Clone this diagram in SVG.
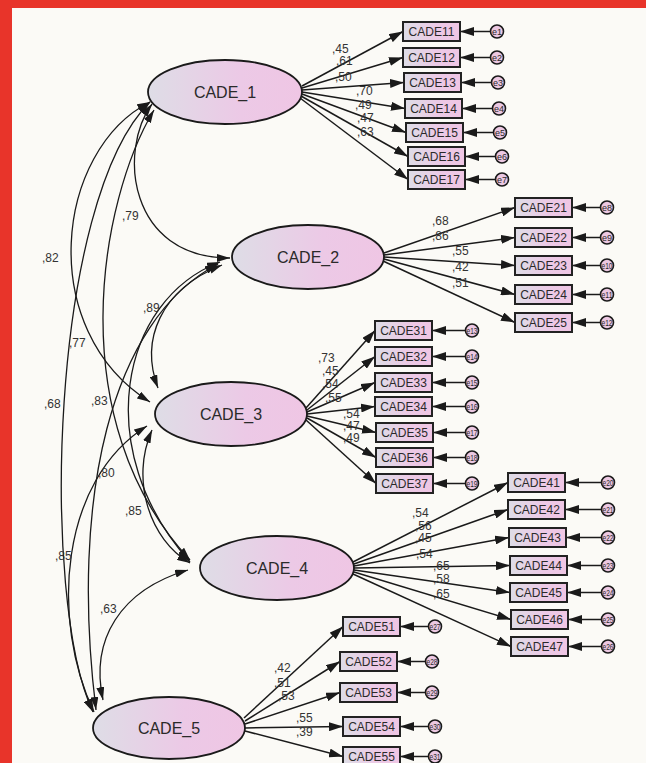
<svg xmlns="http://www.w3.org/2000/svg" width="646" height="763" viewBox="0 0 646 763">
<defs>
<linearGradient id="gf" x1="0" y1="0" x2="1" y2="0">
<stop offset="0" stop-color="#dedde6"/>
<stop offset="0.6" stop-color="#ecc9e6"/>
<stop offset="1" stop-color="#efc6e4"/>
</linearGradient>
<marker id="ah" viewBox="0 0 14 9" refX="14" refY="4.5" markerWidth="14" markerHeight="9" orient="auto-start-reverse" markerUnits="userSpaceOnUse"><path d="M0,0 L14,4.5 L0,9 z" fill="#1a1a1a"/></marker>
<marker id="ac" viewBox="0 0 13 8" refX="13" refY="4" markerWidth="13" markerHeight="8" orient="auto-start-reverse" markerUnits="userSpaceOnUse"><path d="M0,0 L13,4 L0,8 z" fill="#1a1a1a"/></marker>
</defs>
<style>
.lat{fill:url(#gf);stroke:#1a1a1a;stroke-width:1.8}
.obs{fill:url(#gf);stroke:#222;stroke-width:2}
.err{fill:#ecc8e2;stroke:#1a1a1a;stroke-width:1.6}
.ln{fill:none;stroke:#1a1a1a;stroke-width:1.5;marker-end:url(#ah)}
.cv{fill:none;stroke:#1a1a1a;stroke-width:1.3;marker-start:url(#ac);marker-end:url(#ac)}
.lt{font-family:"Liberation Sans",Arial,sans-serif;font-size:16px;fill:#2a2a2a;text-anchor:middle}
.bt{font-family:"Liberation Sans",Arial,sans-serif;font-size:12px;fill:#2a2a2a;text-anchor:middle}
.et{font-family:"Liberation Sans",Arial,sans-serif;font-size:9px;fill:#2a2a2a;text-anchor:middle}
.wt{font-family:"Liberation Sans",Arial,sans-serif;font-size:12px;fill:#333}
</style>
<rect x="0" y="0" width="646" height="763" fill="#fbfaf6"/>
<rect x="0" y="0" width="646" height="8" fill="#e8342a"/>
<rect x="0" y="0" width="12" height="763" fill="#e8342a"/>

<g id="connectors">
<path class="cv" d="M152,104 C118,150 128,258 230,258"/>
<path class="cv" d="M150,102 C55,150 35,330 150,402"/>
<path class="cv" d="M154,110 C100,200 60,420 190,560"/>
<path class="cv" d="M150,102 C50,200 40,600 93,712"/>
<path class="cv" d="M222,265 C160,290 140,340 158,388"/>
<path class="cv" d="M220,262 C120,300 90,450 190,562"/>
<path class="cv" d="M218,264 C110,320 70,500 96,710"/>
<path class="cv" d="M152,430 C130,480 150,540 190,563"/>
<path class="cv" d="M147,426 C60,480 50,620 94,712"/>
<path class="cv" d="M188,570 C120,590 90,640 103,700"/>
<path class="ln" d="M302,86 L403,31.5"/>
<path class="ln" d="M302,88 L403,57.5"/>
<path class="ln" d="M302,90 L404,82.5"/>
<path class="ln" d="M302,92 L405,108.5"/>
<path class="ln" d="M302,94 L406,132.5"/>
<path class="ln" d="M301,96 L408,156.5"/>
<path class="ln" d="M300,98 L408,179.5"/>
<path class="ln" d="M384,253 L515,207.5"/>
<path class="ln" d="M384,255 L515,237.5"/>
<path class="ln" d="M384,257 L515,265.5"/>
<path class="ln" d="M384,259 L515,294.5"/>
<path class="ln" d="M383,261 L515,322.5"/>
<path class="ln" d="M306,408 L375,330.5"/>
<path class="ln" d="M307,410 L375,356.5"/>
<path class="ln" d="M307,412 L375,382.5"/>
<path class="ln" d="M307,414 L375,406.5"/>
<path class="ln" d="M307,416 L376,432.5"/>
<path class="ln" d="M307,418 L376,457.5"/>
<path class="ln" d="M306,420 L376,483.5"/>
<path class="ln" d="M353,562 L508,482.5"/>
<path class="ln" d="M354,564 L508,509.5"/>
<path class="ln" d="M354,566 L509,537.5"/>
<path class="ln" d="M354,568 L510,565.5"/>
<path class="ln" d="M354,570 L510,592.5"/>
<path class="ln" d="M354,572 L511,619.5"/>
<path class="ln" d="M353,574 L511,646.5"/>
<path class="ln" d="M244,718 L343,626.5"/>
<path class="ln" d="M245,721 L340,661.5"/>
<path class="ln" d="M245,724 L340,692.5"/>
<path class="ln" d="M245,728 L343,726.5"/>
<path class="ln" d="M245,731 L343,756.5"/>
<path class="ln" d="M491,31.5 L460,31.5"/>
<path class="ln" d="M491,57.5 L460,57.5"/>
<path class="ln" d="M492,82.5 L461,82.5"/>
<path class="ln" d="M493,108.5 L462,108.5"/>
<path class="ln" d="M494,132.5 L463,132.5"/>
<path class="ln" d="M496,156.5 L465,156.5"/>
<path class="ln" d="M496,179.5 L465,179.5"/>
<path class="ln" d="M601,207.5 L572,207.5"/>
<path class="ln" d="M601,237.5 L572,237.5"/>
<path class="ln" d="M601,265.5 L572,265.5"/>
<path class="ln" d="M601,294.5 L572,294.5"/>
<path class="ln" d="M601,322.5 L572,322.5"/>
<path class="ln" d="M466,330.5 L432,330.5"/>
<path class="ln" d="M466,356.5 L432,356.5"/>
<path class="ln" d="M466,382.5 L432,382.5"/>
<path class="ln" d="M466,406.5 L432,406.5"/>
<path class="ln" d="M466,432.5 L433,432.5"/>
<path class="ln" d="M466,457.5 L433,457.5"/>
<path class="ln" d="M466,483.5 L433,483.5"/>
<path class="ln" d="M602,482.5 L565,482.5"/>
<path class="ln" d="M602,509.5 L565,509.5"/>
<path class="ln" d="M602,537.5 L566,537.5"/>
<path class="ln" d="M602,565.5 L567,565.5"/>
<path class="ln" d="M602,592.5 L567,592.5"/>
<path class="ln" d="M602,619.5 L568,619.5"/>
<path class="ln" d="M602,646.5 L568,646.5"/>
<path class="ln" d="M429,626.5 L400,626.5"/>
<path class="ln" d="M426,661.5 L397,661.5"/>
<path class="ln" d="M426,692.5 L397,692.5"/>
<path class="ln" d="M429,726.5 L400,726.5"/>
<path class="ln" d="M429,756.5 L400,756.5"/>
</g>

<g id="cov-labels">
<text class="wt" x="122" y="220">,79</text>
<text class="wt" x="42" y="262">,82</text>
<text class="wt" x="69" y="347">,77</text>
<text class="wt" x="44" y="408">,68</text>
<text class="wt" x="143" y="312">,89</text>
<text class="wt" x="91" y="405">,83</text>
<text class="wt" x="98" y="477">,80</text>
<text class="wt" x="125" y="515">,85</text>
<text class="wt" x="55" y="560">,85</text>
<text class="wt" x="100" y="613">,63</text>
</g>

<g id="load-labels">
<text class="wt" x="332" y="53">,45</text>
<text class="wt" x="336" y="65">,61</text>
<text class="wt" x="335" y="81">,50</text>
<text class="wt" x="356" y="95">,70</text>
<text class="wt" x="355" y="109">,49</text>
<text class="wt" x="357" y="122">,47</text>
<text class="wt" x="357" y="136">,63</text>
<text class="wt" x="432" y="225">,68</text>
<text class="wt" x="432" y="240">,86</text>
<text class="wt" x="452" y="255">,55</text>
<text class="wt" x="452" y="271">,42</text>
<text class="wt" x="452" y="287">,51</text>
<text class="wt" x="318" y="362">,73</text>
<text class="wt" x="322" y="375">,45</text>
<text class="wt" x="322" y="388">,54</text>
<text class="wt" x="325" y="402">,55</text>
<text class="wt" x="343" y="418">,54</text>
<text class="wt" x="343" y="430">,47</text>
<text class="wt" x="343" y="442">,49</text>
<text class="wt" x="412" y="517">,54</text>
<text class="wt" x="415" y="530">,56</text>
<text class="wt" x="415" y="542">,45</text>
<text class="wt" x="416" y="558">,54</text>
<text class="wt" x="433" y="570">,65</text>
<text class="wt" x="433" y="583">,58</text>
<text class="wt" x="433" y="598">,65</text>
<text class="wt" x="274" y="672">,42</text>
<text class="wt" x="274" y="687">,51</text>
<text class="wt" x="278" y="700">,53</text>
<text class="wt" x="296" y="722">,55</text>
<text class="wt" x="296" y="736">,39</text>
</g>

<g id="CADE_1"><ellipse class="lat" cx="225" cy="92" rx="77" ry="32"/><text class="lt" x="225" y="98">CADE_1</text></g>
<g id="CADE_2"><ellipse class="lat" cx="308" cy="257" rx="76" ry="32"/><text class="lt" x="308" y="263">CADE_2</text></g>
<g id="CADE_3"><ellipse class="lat" cx="231" cy="414" rx="76" ry="32"/><text class="lt" x="231" y="420">CADE_3</text></g>
<g id="CADE_4"><ellipse class="lat" cx="277" cy="568" rx="77" ry="32"/><text class="lt" x="277" y="574">CADE_4</text></g>
<g id="CADE_5"><ellipse class="lat" cx="169" cy="728" rx="76" ry="31"/><text class="lt" x="169" y="734">CADE_5</text></g>

<g id="CADE11"><rect class="obs" x="403" y="22" width="57" height="19"/><text class="bt" x="431.5" y="36">CADE11</text></g>
<g id="CADE12"><rect class="obs" x="403" y="48" width="57" height="19"/><text class="bt" x="431.5" y="62">CADE12</text></g>
<g id="CADE13"><rect class="obs" x="404" y="73" width="57" height="19"/><text class="bt" x="432.5" y="87">CADE13</text></g>
<g id="CADE14"><rect class="obs" x="405" y="99" width="57" height="19"/><text class="bt" x="433.5" y="113">CADE14</text></g>
<g id="CADE15"><rect class="obs" x="406" y="123" width="57" height="19"/><text class="bt" x="434.5" y="137">CADE15</text></g>
<g id="CADE16"><rect class="obs" x="408" y="147" width="57" height="19"/><text class="bt" x="436.5" y="161">CADE16</text></g>
<g id="CADE17"><rect class="obs" x="408" y="170" width="57" height="19"/><text class="bt" x="436.5" y="184">CADE17</text></g>

<g id="CADE21"><rect class="obs" x="515" y="198" width="57" height="19"/><text class="bt" x="543.5" y="212">CADE21</text></g>
<g id="CADE22"><rect class="obs" x="515" y="228" width="57" height="19"/><text class="bt" x="543.5" y="242">CADE22</text></g>
<g id="CADE23"><rect class="obs" x="515" y="256" width="57" height="19"/><text class="bt" x="543.5" y="270">CADE23</text></g>
<g id="CADE24"><rect class="obs" x="515" y="285" width="57" height="19"/><text class="bt" x="543.5" y="299">CADE24</text></g>
<g id="CADE25"><rect class="obs" x="515" y="313" width="57" height="19"/><text class="bt" x="543.5" y="327">CADE25</text></g>

<g id="CADE31"><rect class="obs" x="375" y="321" width="57" height="19"/><text class="bt" x="403.5" y="335">CADE31</text></g>
<g id="CADE32"><rect class="obs" x="375" y="347" width="57" height="19"/><text class="bt" x="403.5" y="361">CADE32</text></g>
<g id="CADE33"><rect class="obs" x="375" y="373" width="57" height="19"/><text class="bt" x="403.5" y="387">CADE33</text></g>
<g id="CADE34"><rect class="obs" x="375" y="397" width="57" height="19"/><text class="bt" x="403.5" y="411">CADE34</text></g>
<g id="CADE35"><rect class="obs" x="376" y="423" width="57" height="19"/><text class="bt" x="404.5" y="437">CADE35</text></g>
<g id="CADE36"><rect class="obs" x="376" y="448" width="57" height="19"/><text class="bt" x="404.5" y="462">CADE36</text></g>
<g id="CADE37"><rect class="obs" x="376" y="474" width="57" height="19"/><text class="bt" x="404.5" y="488">CADE37</text></g>

<g id="CADE41"><rect class="obs" x="508" y="473" width="57" height="19"/><text class="bt" x="536.5" y="487">CADE41</text></g>
<g id="CADE42"><rect class="obs" x="508" y="500" width="57" height="19"/><text class="bt" x="536.5" y="514">CADE42</text></g>
<g id="CADE43"><rect class="obs" x="509" y="528" width="57" height="19"/><text class="bt" x="537.5" y="542">CADE43</text></g>
<g id="CADE44"><rect class="obs" x="510" y="556" width="57" height="19"/><text class="bt" x="538.5" y="570">CADE44</text></g>
<g id="CADE45"><rect class="obs" x="510" y="583" width="57" height="19"/><text class="bt" x="538.5" y="597">CADE45</text></g>
<g id="CADE46"><rect class="obs" x="511" y="610" width="57" height="19"/><text class="bt" x="539.5" y="624">CADE46</text></g>
<g id="CADE47"><rect class="obs" x="511" y="637" width="57" height="19"/><text class="bt" x="539.5" y="651">CADE47</text></g>

<g id="CADE51"><rect class="obs" x="343" y="617" width="57" height="19"/><text class="bt" x="371.5" y="631">CADE51</text></g>
<g id="CADE52"><rect class="obs" x="340" y="652" width="57" height="19"/><text class="bt" x="368.5" y="666">CADE52</text></g>
<g id="CADE53"><rect class="obs" x="340" y="683" width="57" height="19"/><text class="bt" x="368.5" y="697">CADE53</text></g>
<g id="CADE54"><rect class="obs" x="343" y="717" width="57" height="19"/><text class="bt" x="371.5" y="731">CADE54</text></g>
<g id="CADE55"><rect class="obs" x="343" y="747" width="57" height="19"/><text class="bt" x="371.5" y="761">CADE55</text></g>

<g id="e1"><circle class="err" cx="497" cy="31.5" r="6.5"/><text class="et" x="497" y="34.5">e1</text></g>
<g id="e2"><circle class="err" cx="497" cy="57.5" r="6.5"/><text class="et" x="497" y="60.5">e2</text></g>
<g id="e3"><circle class="err" cx="498" cy="82.5" r="6.5"/><text class="et" x="498" y="85.5">e3</text></g>
<g id="e4"><circle class="err" cx="499" cy="108.5" r="6.5"/><text class="et" x="499" y="111.5">e4</text></g>
<g id="e5"><circle class="err" cx="500" cy="132.5" r="6.5"/><text class="et" x="500" y="135.5">e5</text></g>
<g id="e6"><circle class="err" cx="502" cy="156.5" r="6.5"/><text class="et" x="502" y="159.5">e6</text></g>
<g id="e7"><circle class="err" cx="502" cy="179.5" r="6.5"/><text class="et" x="502" y="182.5">e7</text></g>
<g id="e8"><circle class="err" cx="607" cy="207.5" r="6.5"/><text class="et" x="607" y="210.5">e8</text></g>
<g id="e9"><circle class="err" cx="607" cy="237.5" r="6.5"/><text class="et" x="607" y="240.5">e9</text></g>
<g id="e10"><circle class="err" cx="607" cy="265.5" r="6.5"/><text class="et" x="607" y="268.5" textLength="11" lengthAdjust="spacingAndGlyphs">e10</text></g>
<g id="e11"><circle class="err" cx="607" cy="294.5" r="6.5"/><text class="et" x="607" y="297.5" textLength="11" lengthAdjust="spacingAndGlyphs">e11</text></g>
<g id="e12"><circle class="err" cx="607" cy="322.5" r="6.5"/><text class="et" x="607" y="325.5" textLength="11" lengthAdjust="spacingAndGlyphs">e12</text></g>
<g id="e13"><circle class="err" cx="472" cy="330.5" r="6.5"/><text class="et" x="472" y="333.5" textLength="11" lengthAdjust="spacingAndGlyphs">e13</text></g>
<g id="e14"><circle class="err" cx="472" cy="356.5" r="6.5"/><text class="et" x="472" y="359.5" textLength="11" lengthAdjust="spacingAndGlyphs">e14</text></g>
<g id="e15"><circle class="err" cx="472" cy="382.5" r="6.5"/><text class="et" x="472" y="385.5" textLength="11" lengthAdjust="spacingAndGlyphs">e15</text></g>
<g id="e16"><circle class="err" cx="472" cy="406.5" r="6.5"/><text class="et" x="472" y="409.5" textLength="11" lengthAdjust="spacingAndGlyphs">e16</text></g>
<g id="e17"><circle class="err" cx="472" cy="432.5" r="6.5"/><text class="et" x="472" y="435.5" textLength="11" lengthAdjust="spacingAndGlyphs">e17</text></g>
<g id="e18"><circle class="err" cx="472" cy="457.5" r="6.5"/><text class="et" x="472" y="460.5" textLength="11" lengthAdjust="spacingAndGlyphs">e18</text></g>
<g id="e19"><circle class="err" cx="472" cy="483.5" r="6.5"/><text class="et" x="472" y="486.5" textLength="11" lengthAdjust="spacingAndGlyphs">e19</text></g>
<g id="e20"><circle class="err" cx="608" cy="482.5" r="6.5"/><text class="et" x="608" y="485.5" textLength="11" lengthAdjust="spacingAndGlyphs">e20</text></g>
<g id="e21"><circle class="err" cx="608" cy="509.5" r="6.5"/><text class="et" x="608" y="512.5" textLength="11" lengthAdjust="spacingAndGlyphs">e21</text></g>
<g id="e22"><circle class="err" cx="608" cy="537.5" r="6.5"/><text class="et" x="608" y="540.5" textLength="11" lengthAdjust="spacingAndGlyphs">e22</text></g>
<g id="e23"><circle class="err" cx="608" cy="565.5" r="6.5"/><text class="et" x="608" y="568.5" textLength="11" lengthAdjust="spacingAndGlyphs">e23</text></g>
<g id="e24"><circle class="err" cx="608" cy="592.5" r="6.5"/><text class="et" x="608" y="595.5" textLength="11" lengthAdjust="spacingAndGlyphs">e24</text></g>
<g id="e25"><circle class="err" cx="608" cy="619.5" r="6.5"/><text class="et" x="608" y="622.5" textLength="11" lengthAdjust="spacingAndGlyphs">e25</text></g>
<g id="e26"><circle class="err" cx="608" cy="646.5" r="6.5"/><text class="et" x="608" y="649.5" textLength="11" lengthAdjust="spacingAndGlyphs">e26</text></g>
<g id="e27"><circle class="err" cx="435" cy="626.5" r="6.5"/><text class="et" x="435" y="629.5" textLength="11" lengthAdjust="spacingAndGlyphs">e27</text></g>
<g id="e28"><circle class="err" cx="432" cy="661.5" r="6.5"/><text class="et" x="432" y="664.5" textLength="11" lengthAdjust="spacingAndGlyphs">e28</text></g>
<g id="e29"><circle class="err" cx="432" cy="692.5" r="6.5"/><text class="et" x="432" y="695.5" textLength="11" lengthAdjust="spacingAndGlyphs">e29</text></g>
<g id="e30"><circle class="err" cx="435" cy="726.5" r="6.5"/><text class="et" x="435" y="729.5" textLength="11" lengthAdjust="spacingAndGlyphs">e30</text></g>
<g id="e31"><circle class="err" cx="435" cy="756.5" r="6.5"/><text class="et" x="435" y="759.5" textLength="11" lengthAdjust="spacingAndGlyphs">e31</text></g>
</svg>
